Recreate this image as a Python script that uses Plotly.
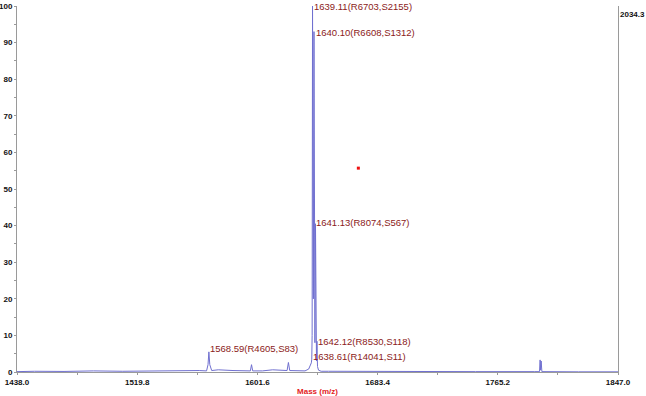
import plotly.graph_objects as go

# ---- data ----
mass = [1438.0, 1450.0, 1470.0, 1490.0, 1510.0, 1530.0, 1545.0, 1555.0, 1562.0,
        1567.0, 1568.0, 1568.59, 1569.2, 1570.5, 1575.0, 1585.0,
        1596.8, 1597.6, 1598.4, 1605.0, 1612.0,
        1621.8, 1622.7, 1623.6, 1630.0, 1634.0, 1636.5, 1637.8, 1638.3,
        1638.61, 1638.85, 1639.11, 1639.45, 1639.7, 1640.10, 1640.45, 1640.75,
        1641.13, 1641.5, 1641.8, 1642.12, 1642.5, 1643.2, 1645.0, 1650.0,
        1670.0, 1700.0, 1750.0, 1790.0, 1793.6, 1794.0, 1794.3, 1794.7, 1795.2,
        1820.0, 1847.0]
intensity = [0.1, 0.2, 0.15, 0.3, 0.2, 0.35, 0.3, 0.5, 0.4,
             0.3, 2.0, 5.5, 2.0, 0.4, 0.6, 0.4,
             0.3, 2.0, 0.3, 0.3, 0.6,
             0.4, 2.6, 0.4, 0.4, 0.3, 0.8, 1.8, 2.5,
             3.5, 10.0, 100.0, 30.0, 20.0, 93.0, 15.0, 8.0,
             40.5, 5.0, 3.0, 8.4, 1.5, 0.5, 0.2, 0.2,
             0.15, 0.1, 0.1, 0.1, 0.1, 3.3, 0.5, 3.0, 0.1,
             0.05, 0.05]

label_mass = [1639.11, 1640.10, 1641.13, 1642.12, 1638.61, 1568.59]
label_text = ["1639.11(R6703,S2155)", "1640.10(R6608,S1312)", "1641.13(R8074,S567)",
              "1642.12(R8530,S118)", "1638.61(R14041,S11)", "1568.59(R4605,S83)"]
label_height = [100.0, 92.7, 40.8, 8.4, 4.3, 6.5]

marker_mass = [1670.3]
marker_value = [55.7]

x_ticks = [1438.0, 1519.8, 1601.6, 1683.4, 1765.2, 1847.0]
y_ticks = [0, 10, 20, 30, 40, 50, 60, 70, 80, 90, 100]
max_intensity_text = "2034.3"

# ---- figure ----
fig = go.Figure()
fig.add_trace(go.Scatter(x=mass, y=intensity, mode="lines",
                         line=dict(color="#7070d0", width=1),
                         hoverinfo="skip", showlegend=False))
fig.add_trace(go.Scatter(x=marker_mass, y=marker_value, mode="markers",
                         marker=dict(color="#ee1111", size=3, symbol="square"),
                         hoverinfo="skip", showlegend=False))

x_offsets = [-1, 0, -1, -1, -1, -1]
for m, t, h, dx in zip(label_mass, label_text, label_height, x_offsets):
    fig.add_annotation(x=m, y=h, text=t, showarrow=False, xanchor="left",
                       yanchor="middle", xshift=dx,
                       font=dict(family="Liberation Sans, Arial", size=9.5, color="#8b1a1a"))

fig.add_annotation(x=1, y=1, xref="paper", yref="paper", text="<b>" + max_intensity_text + "</b>",
                   showarrow=False, xanchor="left", yanchor="top", xshift=0, yshift=-2,
                   font=dict(family="Liberation Sans, Arial", size=8, color="#111"))

tickfont = dict(family="Liberation Sans, Arial", size=8, color="#111", weight="bold")

fig.update_layout(
    width=646, height=396,
    margin=dict(l=17, r=28, t=6, b=24, autoexpand=False),
    paper_bgcolor="white", plot_bgcolor="white",
    xaxis=dict(range=[x_ticks[0], x_ticks[-1]], tickmode="array", tickvals=x_ticks,
               ticktext=[f"{v:.1f}" for v in x_ticks], tickfont=tickfont,
               showgrid=False, zeroline=False, showline=True, linecolor="#9a9a9a",
               linewidth=1, ticks="outside", ticklen=2, tickcolor="#9a9a9a",
               ticklabelstandoff=0, ticklabeloverflow="allow", automargin=False,
               minor=dict(tickmode="linear", tick0=x_ticks[0], dtick=(x_ticks[1]-x_ticks[0]) / 2,
                          ticks="outside", ticklen=2, tickcolor="#9a9a9a"),
               title=dict(text="<b>Mass (m/z)</b>", standoff=2,
                          font=dict(family="Liberation Sans, Arial", size=8, color="#e3211c"))),
    yaxis=dict(range=[0, 100], tickmode="array", tickvals=y_ticks, tickfont=tickfont,
               showgrid=False, zeroline=False, showline=True, mirror=True,
               linecolor="#9a9a9a", linewidth=1, ticks="outside", ticklen=2,
               tickcolor="#9a9a9a", ticklabelstandoff=0, ticklabeloverflow="allow",
               automargin=False,
               minor=dict(tickmode="linear", tick0=0, dtick=5, ticks="outside",
                          ticklen=2, tickcolor="#9a9a9a")),
)

fig.write_html("out.html")
